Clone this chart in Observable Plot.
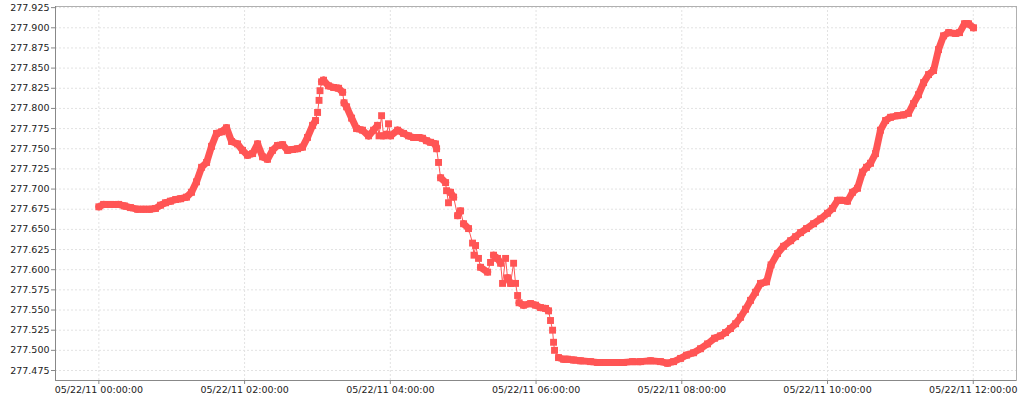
<!DOCTYPE html>
<html>
<head>
<meta charset="utf-8">
<script src="https://cdn.jsdelivr.net/npm/d3@7"></script>
<script src="https://cdn.jsdelivr.net/npm/@observablehq/plot@0.6"></script>
<style>
  body { margin: 0; background: white; }
</style>
</head>
<body>
<div id="chart"></div>
<script>
// minutes after 05/22/11 00:00:00
const minutes = [
  0.0, 3.9, 9.6, 16.2, 21.2, 26.1, 31.9, 36.8, 41.7, 46.7,
  50.8, 54.9, 59.0, 63.2, 67.3, 72.2, 76.3, 80.4, 84.6, 88.7,
  92.8, 96.9, 101.0, 105.1, 109.3, 114.2, 118.3, 122.4, 126.6, 130.7,
  134.8, 138.9, 143.0, 147.1, 151.3, 155.4, 159.5, 163.6, 167.7, 171.8,
  176.0, 178.4, 180.1, 181.3, 182.1, 183.4, 185.0, 189.1, 193.3, 197.4,
  200.7, 201.9, 204.0, 208.1, 212.2, 217.1, 222.1, 226.2, 229.5, 230.7,
  232.8, 234.4, 236.9, 238.5, 240.2, 246.0, 250.9, 255.0, 259.1, 263.2,
  266.5, 269.8, 273.1, 277.2, 278.1, 279.7, 281.4, 285.5, 286.3, 287.9,
  289.6, 292.1, 295.4, 297.8, 300.3, 304.4, 307.7, 308.9, 310.2, 312.6,
  314.3, 320.1, 322.5, 325.0, 328.3, 330.8, 332.4, 334.9, 336.5, 339.0,
  341.5, 343.1, 344.8, 346.0, 349.7, 355.5, 359.6, 363.7, 367.8, 370.3,
  371.9, 373.6, 374.4, 375.2, 378.5, 382.6, 385.9, 390.9, 396.6, 404.9,
  410.6, 417.2, 425.5, 432.0, 439.4, 446.0, 454.3, 462.5, 468.3, 473.2,
  479.0, 483.9, 489.7, 495.4, 501.2, 507.0, 511.9, 516.0, 520.1, 524.3,
  528.4, 532.5, 536.6, 540.7, 544.8, 549.8, 553.5, 558.8, 563.8, 569.6,
  573.7, 577.8, 582.7, 588.5, 594.3, 600.0, 604.1, 608.3, 612.4, 616.5,
  620.6, 624.7, 628.8, 632.1, 635.4, 639.5, 643.6, 647.8, 651.9, 657.6,
  662.6, 666.7, 670.8, 674.9, 679.1, 683.2, 687.3, 691.4, 695.5, 699.7,
  705.4, 708.7, 712.8, 716.1, 720.2
];
const values = [
  277.678, 277.681, 277.681, 277.681, 277.679, 277.677, 277.675, 277.675, 277.675, 277.676,
  277.680, 277.683, 277.685, 277.687, 277.688, 277.690, 277.696, 277.709, 277.727, 277.733,
  277.753, 277.769, 277.771, 277.776, 277.759, 277.756, 277.748, 277.742, 277.744, 277.756,
  277.740, 277.737, 277.748, 277.754, 277.755, 277.748, 277.749, 277.750, 277.752, 277.764,
  277.779, 277.785, 277.795, 277.810, 277.822, 277.833, 277.835, 277.828, 277.826, 277.825,
  277.820, 277.807, 277.802, 277.788, 277.775, 277.773, 277.766, 277.773, 277.779, 277.766,
  277.791, 277.766, 277.768, 277.781, 277.766, 277.773, 277.769, 277.766, 277.764, 277.764,
  277.763, 277.760, 277.758, 277.756, 277.750, 277.733, 277.714, 277.708, 277.698, 277.683,
  277.696, 277.690, 277.667, 277.673, 277.657, 277.651, 277.633, 277.618, 277.630, 277.614,
  277.603, 277.597, 277.609, 277.618, 277.614, 277.608, 277.583, 277.614, 277.590, 277.583,
  277.608, 277.583, 277.568, 277.559, 277.556, 277.558, 277.556, 277.553, 277.552, 277.549,
  277.537, 277.525, 277.510, 277.500, 277.491, 277.489, 277.489, 277.488, 277.487, 277.486,
  277.485, 277.485, 277.485, 277.485, 277.486, 277.486, 277.487, 277.486, 277.484, 277.486,
  277.490, 277.494, 277.497, 277.502, 277.508, 277.515, 277.518, 277.522, 277.527, 277.533,
  277.541, 277.551, 277.562, 277.572, 277.583, 277.585, 277.606, 277.620, 277.629, 277.636,
  277.641, 277.646, 277.651, 277.657, 277.663, 277.670, 277.676, 277.686, 277.686, 277.685,
  277.696, 277.701, 277.721, 277.727, 277.732, 277.744, 277.773, 277.785, 277.789, 277.791,
  277.792, 277.794, 277.806, 277.817, 277.832, 277.842, 277.847, 277.873, 277.890, 277.894,
  277.893, 277.894, 277.905, 277.905, 277.900
];
const tickHours = [0, 2, 4, 6, 8, 10, 12];
const yTicks = d3.range(277.475, 277.926, 0.025).map(v => +v.toFixed(3));

const base = Date.UTC(2011, 4, 22);
const toDate = m => new Date(base + m * 60000);

const data = minutes.map((m, i) => ({ time: toDate(m), value: values[i] }));
const tickDates = tickHours.map(h => toDate(h * 60));

// consecutive samples close together draw as one thick trace, big jumps show single squares
const segs = [];
for (let i = 0; i < data.length - 1; i++) {
  const dt = minutes[i + 1] - minutes[i];
  const dv = Math.abs(values[i + 1] - values[i]);
  if (dv <= 0.0075 || dt >= 3.5) {
    segs.push({ t1: data[i].time, v1: values[i], t2: data[i + 1].time, v2: values[i + 1] });
  }
}

const red = '#ff5555';
const xDomain = [toDate(-35.7), toDate(755.6)];
const yDomain = [277.4626, 277.9264];

const chart = Plot.plot({
  width: 1024,
  height: 400,
  marginLeft: 55,
  marginRight: 8,
  marginTop: 6,
  marginBottom: 20,
  style: {
    fontFamily: 'DejaVu Sans',
    fontSize: '9.5px',
    color: '#222',
    background: 'white',
  },
  x: { type: 'utc', domain: xDomain },
  y: { domain: yDomain },
  marks: [
    Plot.gridX(tickDates, { stroke: '#e2e2e2', strokeOpacity: 1, strokeDasharray: '2,2' }),
    Plot.gridY(yTicks, { stroke: '#e2e2e2', strokeOpacity: 1, strokeDasharray: '2,2' }),
    Plot.frame({ stroke: '#b0b0b0' }),
    Plot.ruleX([xDomain[0]], { stroke: '#888' }),
    Plot.ruleY([yDomain[0]], { stroke: '#888' }),
    Plot.axisX(tickDates, {
      tickFormat: d3.utcFormat('%m/%d/%y %H:%M:%S'),
      tickSize: 4,
      tickPadding: 2,
      stroke: '#888',
      fill: '#222',
      label: null,
    }),
    Plot.axisY(yTicks, {
      tickFormat: d3.format('.3f'),
      tickSize: 4,
      tickPadding: 2,
      stroke: '#888',
      fill: '#222',
      label: null,
    }),
    Plot.link(segs, {
      x1: 't1', y1: 'v1', x2: 't2', y2: 'v2',
      stroke: red, strokeWidth: 7, strokeLinecap: 'round',
    }),
    Plot.line(data, { x: 'time', y: 'value', stroke: red, strokeWidth: 1 }),
    Plot.dot(data, { x: 'time', y: 'value', symbol: 'square', r: 3.9, fill: red }),
  ],
});

d3.select('#chart').append(() => chart);
</script>
</body>
</html>
